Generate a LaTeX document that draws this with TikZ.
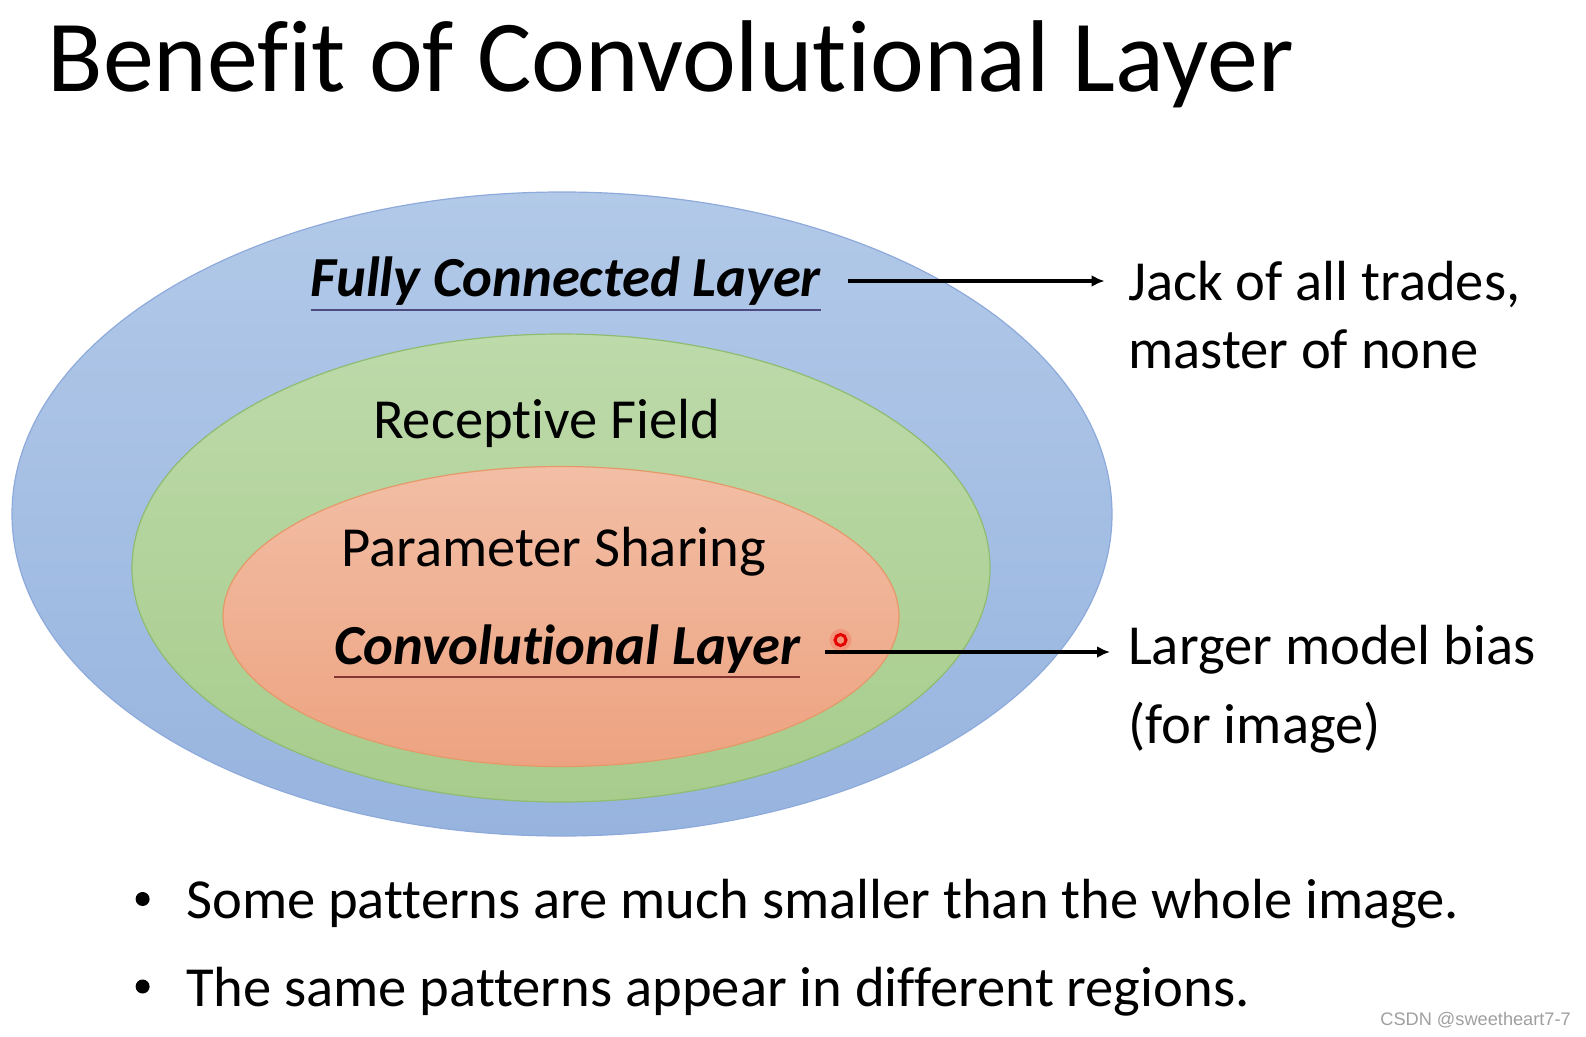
\documentclass[tikz,border=0pt]{standalone}
\usepackage{fontspec}
\setmainfont{Carlito}[Ligatures={NoCommon}]
\newfontfamily\wmfont{Liberation Sans}
\usepackage{tikz}
\usetikzlibrary{arrows.meta}

\definecolor{blueTop}{HTML}{B2C9E8}
\definecolor{blueBot}{HTML}{97B4DF}
\definecolor{blueEdge}{HTML}{8EAADB}
\definecolor{greenTop}{HTML}{BDDAAA}
\definecolor{greenBot}{HTML}{A7CC8C}
\definecolor{greenEdge}{HTML}{8FBC70}
\definecolor{redTop}{HTML}{F2BEA5}
\definecolor{redBot}{HTML}{EDA381}
\definecolor{redEdge}{HTML}{E5996A}

\tikzset{
  txt/.style={inner sep=0pt, anchor=base west, font=\fontsize{56.6}{67}\selectfont},
  bitxt/.style={txt, font=\fontsize{56.6}{67}\selectfont\bfseries\itshape},
  title/.style={inner sep=0pt, anchor=base west, font=\fontsize{102}{120}\selectfont},
  arrow/.style={line width=3.5pt, -{Latex[length=13pt,width=12pt]}},
  uline/.style={line width=2pt},
}

\begin{document}
\begin{tikzpicture}[x=1pt,y=-1pt]
\useasboundingbox (0,0) rectangle (1586,1036);

\node[title] (title) at (47.5,91) {Benefit of Convolutional Layer};

% nested sets
\draw[draw=blueEdge, line width=1.2pt, top color=blueTop, bottom color=blueBot] (562,514) ellipse (550pt and 322pt);
\draw[draw=greenEdge, line width=1.2pt, top color=greenTop, bottom color=greenBot] (561,568) ellipse (429pt and 234pt);
\draw[draw=redEdge, line width=1.2pt, top color=redTop, bottom color=redBot] (561,616.5) ellipse (338pt and 150pt);

\node[bitxt] (fcl) at (310.5,296) {Fully Connected Layer};
\node[txt] (rf) at (373,438) {Receptive Field};
\node[txt] (ps) at (341,566) {Parameter Sharing};
\node[bitxt] (cl) at (334,664.5) {Convolutional Layer};

\draw[uline, draw=blue!30!black!70] ([yshift=-13.5pt]fcl.base west) -- ([yshift=-13.5pt]fcl.base east);
\draw[uline, draw=red!40!black!80] ([yshift=-12.5pt]cl.base west) -- ([yshift=-12.5pt]cl.base east);

% right hand side
\node[txt] (jack) at (1128,300) {Jack of all trades,};
\node[txt] (master) at (1128,368) {master of none};
\node[txt] (bias) at (1128,664.5) {Larger model bias};
\node[txt] (img) at (1128,743) {(for image)};

\draw[arrow] ([xshift=27pt,yshift=15pt]fcl.base east) -- ([xshift=-23.5pt,yshift=15pt]fcl.base east -| jack.base west);
\draw[arrow] ([xshift=25pt,yshift=12.5pt]cl.base east) -- ([xshift=-18pt,yshift=12.5pt]cl.base east -| bias.base west);

% pointer
\fill[red, opacity=0.15] (840.5,640) circle (11pt);
\draw[red!90!black, line width=3pt] (840.5,640) circle (5.5pt);

% bullets
\foreach \y/\t [count=\i] in {918.5/Some patterns are much smaller than the whole image., 1006/The same patterns appear in different regions.}
{
	\node[circle, fill, inner sep=0pt, minimum size=14pt] (dot\i) at (142.6,\y-19.5) {};
	\node[txt] (pt\i) at (186,\y) {\t};
}

\node[inner sep=0pt, anchor=base east, font=\wmfont\fontsize{18.2}{20}\selectfont, text=gray!75] (wm) at (1571,1025) {CSDN @sweetheart7-7};
\end{tikzpicture}
\end{document}
